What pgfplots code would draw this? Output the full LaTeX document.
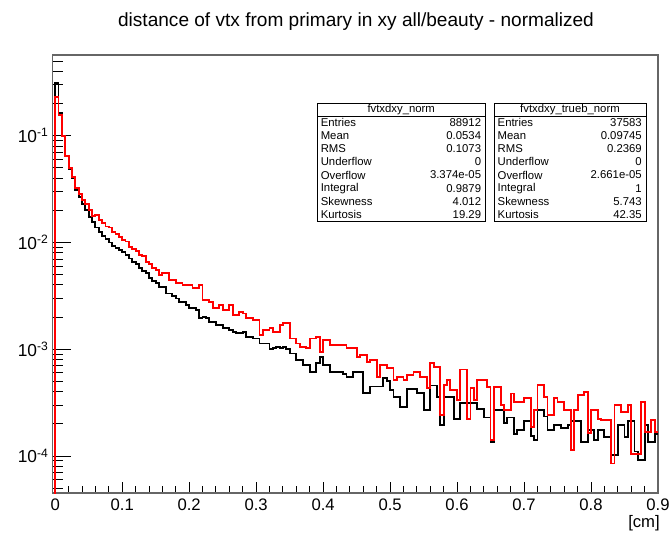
\documentclass[border=0pt]{standalone}
\usepackage{fontspec}
\setmainfont{Liberation Sans}
\usepackage{pgfplots}
\usepackage{pgfplotstable}
\pgfplotsset{compat=1.18}

% bin left edges (width 0.005 cm); first row opens the step from the bottom, last row closes the last bin
\pgfplotstableread{
x b r
0.000 1e-7 1e-7
0.000 0.309 0.232
0.005 0.162 0.155
0.010 0.100 0.100
0.015 0.0646 0.0646
0.020 0.0490 0.0501
0.025 0.0398 0.0407
0.030 0.0309 0.0324
0.035 0.0269 0.0282
0.040 0.0229 0.0251
0.045 0.0200 0.0229
0.050 0.0174 0.0200
0.055 0.0155 0.0178
0.060 0.0138 0.0182
0.065 0.0126 0.0162
0.070 0.0115 0.0151
0.075 0.0107 0.0141
0.080 0.0100 0.0138
0.085 0.00933 0.0126
0.090 0.00891 0.0120
0.095 0.00851 0.0112
0.100 0.00813 0.0105
0.105 0.00759 0.0102
0.110 0.00708 0.00912
0.115 0.00661 0.00871
0.120 0.00631 0.00832
0.125 0.00575 0.00759
0.130 0.00537 0.00741
0.135 0.00513 0.00661
0.140 0.00468 0.00631
0.145 0.00437 0.00575
0.150 0.00417 0.00550
0.155 0.00385 0.00494
0.160 0.00385 0.00513
0.165 0.00333 0.00513
0.170 0.00333 0.00445
0.175 0.00316 0.00445
0.180 0.00299 0.00414
0.185 0.00278 0.00414
0.190 0.00278 0.00398
0.195 0.00259 0.00398
0.200 0.00241 0.00398
0.205 0.00241 0.00372
0.210 0.00234 0.00372
0.215 0.00195 0.00398
0.220 0.00200 0.00288
0.225 0.00195 0.00288
0.230 0.00181 0.00278
0.235 0.00181 0.00241
0.240 0.00168 0.00241
0.245 0.00168 0.00259
0.250 0.00157 0.00232
0.255 0.00157 0.00232
0.260 0.00151 0.00259
0.265 0.00146 0.00209
0.270 0.00141 0.00209
0.275 0.00141 0.00224
0.280 0.00146 0.00216
0.285 0.00131 0.00195
0.290 0.00131 0.00195
0.295 0.00126 0.00187
0.300 0.00126 0.00187
0.305 0.00113 0.00136
0.310 0.00113 0.00151
0.315 0.00113 0.00151
0.320 0.00100 0.00157
0.325 0.00102 0.00146
0.330 0.00105 0.00146
0.335 0.00102 0.00168
0.340 0.00105 0.00175
0.345 0.00100 0.00175
0.350 0.000912 0.00126
0.355 0.000912 0.00126
0.360 0.000794 0.00113
0.365 0.000794 0.00105
0.370 0.000708 0.00105
0.375 0.000708 0.00102
0.380 0.000617 0.00126
0.385 0.000617 0.00126
0.390 0.000741 0.00129
0.395 0.000851 0.000946
0.400 0.000708 0.00122
0.405 0.000708 0.00122
0.410 0.000617 0.00110
0.415 0.000617 0.00110
0.420 0.000617 0.00110
0.425 0.000617 0.00110
0.430 0.000589 0.00110
0.435 0.000550 0.00102
0.440 0.000550 0.00102
0.445 0.000617 0.00102
0.450 0.000617 0.000849
0.455 0.000617 0.000881
0.460 0.000389 0.000881
0.465 0.000389 0.000762
0.470 0.000447 0.000794
0.475 0.000447 0.000794
0.480 0.000447 0.000551
0.485 0.000447 0.000710
0.490 0.000537 0.000710
0.495 0.000501 0.000661
0.500 0.000417 0.000661
0.505 0.000355 0.000513
0.510 0.000355 0.000551
0.515 0.000288 0.000551
0.520 0.000288 0.000513
0.525 0.000427 0.000571
0.530 0.000427 0.000571
0.535 0.000427 0.000614
0.540 0.000389 0.000614
0.545 0.000389 0.000551
0.550 0.000269 0.000551
0.555 0.000269 0.000430
0.560 0.000457 0.000736
0.565 0.000457 0.000684
0.570 0.000355 0.000684
0.575 0.000195 0.000241
0.580 0.000355 0.000461
0.585 0.000355 0.000513
0.590 0.000355 0.000414
0.595 0.000224 0.000414
0.600 0.000224 0.000333
0.605 0.000316 0.000646
0.610 0.000316 0.000646
0.615 0.000316 0.000224
0.620 0.000316 0.000430
0.625 0.000316 0.000333
0.630 0.000275 0.000513
0.635 0.000275 0.000513
0.640 0.000229 0.000513
0.645 0.000229 0.000445
0.650 0.000135 0.000141
0.655 0.000269 0.000445
0.660 0.000269 0.000445
0.665 0.000269 0.000299
0.670 0.000204 0.000269
0.675 0.000229 0.000269
0.680 0.000229 0.000385
0.685 0.000162 0.000321
0.690 0.000174 0.000321
0.695 0.000174 0.000321
0.700 0.000214 0.000346
0.705 0.000214 0.000346
0.710 0.000155 0.000187
0.715 0.000141 0.000269
0.720 0.000269 0.000461
0.725 0.000269 0.000461
0.730 0.000234 0.000358
0.735 0.000174 0.000241
0.740 0.000174 0.000241
0.745 0.000195 0.000346
0.750 0.000195 0.000321
0.755 0.000182 0.000321
0.760 0.000182 0.000269
0.765 0.000195 0.000269
0.770 0.000214 0.000113
0.775 0.000214 0.000269
0.780 0.000214 0.000372
0.785 0.000135 0.000372
0.790 0.000135 0.000399
0.795 0.000174 0.000163
0.800 0.000174 0.000269
0.805 0.000141 0.000269
0.810 0.000174 0.000224
0.815 0.000174 0.000216
0.820 0.000151 0.000216
0.825 0.000151 0.000216
0.830 0.000102 0.0000851
0.835 0.000102 0.000299
0.840 0.000195 0.000299
0.845 0.000195 0.000259
0.850 0.000151 0.000259
0.855 0.000214 0.000299
0.860 0.000214 0.000105
0.865 0.000110 0.000105
0.870 0.0000912 0.000105
0.875 0.0000912 0.000321
0.880 0.000195 0.000168
0.885 0.000135 0.000168
0.890 0.000135 0.000216
0.895 0.000162 0.000168
0.900 0.000162 0.000168
}\histdata

\begin{document}
\begin{tikzpicture}
\path[use as bounding box] (0,0) rectangle (504pt,399.75pt);
\begin{axis}[
  at={(39.4pt,30pt)}, anchor=south west,
  scale only axis, width=454.1pt, height=328.5pt,
  ymode=log, xmin=-0.004, xmax=0.9, ymin=4.5e-5, ymax=0.57,
  xtick={0,0.1,0.2,0.3,0.4,0.5,0.6,0.7,0.8,0.9},
  xticklabels={0,0.1,0.2,0.3,0.4,0.5,0.6,0.7,0.8,0.9},
  minor xtick={0.02,0.04,0.06,0.08,0.12,0.14,0.16,0.18,0.22,0.24,0.26,0.28,0.32,0.34,0.36,0.38,0.42,0.44,0.46,0.48,0.52,0.54,0.56,0.58,0.62,0.64,0.66,0.68,0.72,0.74,0.76,0.78,0.82,0.84,0.86,0.88},
  ytick={1e-4,1e-3,1e-2,1e-1},
  yticklabels={10\textsuperscript{-4},10\textsuperscript{-3},10\textsuperscript{-2},10\textsuperscript{-1}},
  minor ytick={5e-5,6e-5,7e-5,8e-5,9e-5,2e-4,3e-4,4e-4,5e-4,6e-4,7e-4,8e-4,9e-4,2e-3,3e-3,4e-3,5e-3,6e-3,7e-3,8e-3,9e-3,2e-2,3e-2,4e-2,5e-2,6e-2,7e-2,8e-2,9e-2,2e-1,3e-1,4e-1,5e-1},
  tick align=inside, tick pos=left,
  x tick style={/pgfplots/major tick length=8.5pt, /pgfplots/minor tick length=5pt},
  y tick style={/pgfplots/major tick length=13.5pt, /pgfplots/minor tick length=8pt},
  axis line style={black!60, line width=1pt},
  tick style={black, line width=0.7pt},
  xticklabel style={font=\fontsize{12.5pt}{15pt}\selectfont, yshift=-0.5pt},
  yticklabel style={font=\fontsize{13pt}{15pt}\selectfont, xshift=0.5pt},
]
\addplot[const plot mark left, black, line width=1.4pt] table[x=x,y=b]{\histdata};
\addplot[const plot mark left, red, line width=1.4pt] table[x=x,y=r]{\histdata};
\end{axis}

\node[font=\fontsize{14.3pt}{17pt}\selectfont] at (267pt,383.5pt) {distance of vtx from primary in xy all/beauty - normalized};
\node[anchor=north east, inner sep=0pt, font=\fontsize{12.5pt}{15pt}\selectfont] at (495pt,13.2pt) {[cm]};

\begin{scope}[font=\fontsize{8.5pt}{10pt}\selectfont]
  % box 1
  \draw[black, line width=0.6pt, fill=white] (237.75pt,234pt) rectangle (364pt,322.5pt);
  \draw[line width=0.6pt] (237.75pt,312.75pt) -- (364pt,312.75pt);
  \node[inner sep=0pt] at (300.9pt,317.6pt) {fvtxdxy\_norm};
  \foreach \lab/\val [count=\i from 0] in {Entries/88912,Mean/0.0534,RMS/0.1073,Underflow/0,Overflow/3.374e-05,Integral/0.9879,Skewness/4.012,Kurtosis/19.29} {
    \node[anchor=west, inner sep=0pt] at ({240.4pt},{312.75pt-(\i+0.5)*9.84pt}) {\lab};
    \node[anchor=east, inner sep=0pt] at ({361pt},{312.75pt-(\i+0.5)*9.84pt}) {\val};
  }
  % box 2
  \draw[black, line width=0.6pt, fill=white] (370.5pt,234pt) rectangle (484.5pt,322.5pt);
  \draw[line width=0.6pt] (370.5pt,312.75pt) -- (484.5pt,312.75pt);
  \node[inner sep=0pt] at (427.5pt,317.6pt) {fvtxdxy\_trueb\_norm};
  \foreach \lab/\val [count=\i from 0] in {Entries/37583,Mean/0.09745,RMS/0.2369,Underflow/0,Overflow/2.661e-05,Integral/1,Skewness/5.743,Kurtosis/42.35} {
    \node[anchor=west, inner sep=0pt] at ({373.1pt},{312.75pt-(\i+0.5)*9.84pt}) {\lab};
    \node[anchor=east, inner sep=0pt] at ({481.5pt},{312.75pt-(\i+0.5)*9.84pt}) {\val};
  }
\end{scope}
\end{tikzpicture}
\end{document}
